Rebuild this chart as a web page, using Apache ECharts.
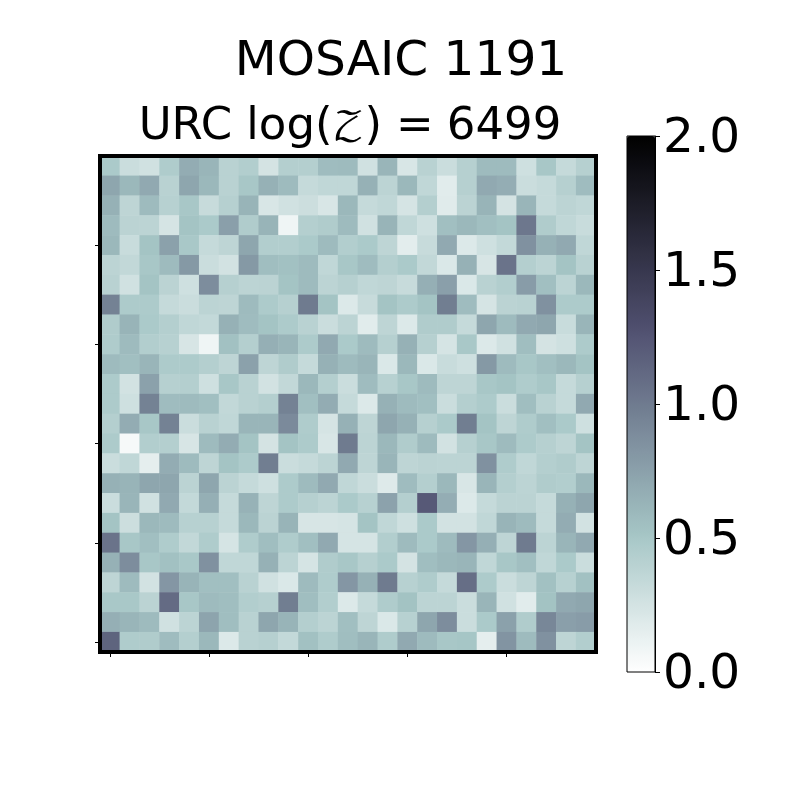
<!DOCTYPE html>
<html>
<head>
<meta charset="utf-8">
<style>html,body{margin:0;padding:0;background:#fff}#chart{width:800px;height:800px}</style>
<script src="https://cdn.jsdelivr.net/npm/echarts@6/dist/echarts.min.js"></script>
</head>
<body>
<div id="chart"></div>
<script>
// values, top row first
const row00 = [.48,.30,.27,.46,.68,.62,.40,.44,.25,.43,.43,.57,.58,.27,.62,.22,.40,.30,.42,.58,.58,.28,.50,.33,.42];
const row01 = [.72,.60,.70,.40,.72,.60,.40,.50,.65,.58,.33,.36,.36,.65,.38,.60,.36,.17,.42,.70,.67,.30,.33,.42,.57];
const row02 = [.65,.37,.58,.41,.50,.32,.42,.63,.22,.27,.29,.22,.60,.33,.36,.24,.43,.18,.39,.63,.25,.62,.33,.38,.36];
const row03 = [.58,.39,.38,.24,.52,.48,.76,.45,.63,.09,.43,.45,.58,.27,.63,.36,.28,.55,.60,.55,.52,1.02,.45,.36,.31];
const row04 = [.60,.31,.52,.75,.49,.33,.37,.72,.44,.44,.48,.58,.44,.48,.37,.16,.32,.70,.20,.28,.34,.85,.65,.70,.36];
const row05 = [.38,.35,.50,.58,.80,.30,.26,.80,.56,.54,.58,.36,.50,.57,.43,.48,.35,.21,.65,.23,1.05,.43,.38,.52,.40];
const row06 = [.40,.27,.52,.39,.28,.88,.42,.38,.39,.52,.58,.38,.42,.36,.37,.32,.66,.76,.21,.40,.44,.78,.55,.38,.60];
const row07 = [.95,.47,.47,.33,.30,.38,.37,.58,.47,.42,1.0,.52,.20,.32,.52,.47,.52,.98,.57,.24,.39,.40,.85,.47,.47];
const row08 = [.45,.63,.48,.43,.36,.34,.65,.57,.52,.47,.40,.30,.38,.17,.37,.20,.45,.45,.33,.72,.58,.70,.72,.31,.62];
const row09 = [.46,.58,.44,.41,.23,.09,.54,.43,.66,.62,.47,.70,.48,.58,.42,.65,.42,.24,.49,.20,.27,.56,.25,.28,.47];
const row10 = [.58,.55,.62,.47,.47,.43,.37,.75,.37,.45,.33,.65,.58,.62,.21,.60,.21,.31,.28,.80,.58,.50,.55,.60,.52];
const row11 = [.47,.26,.75,.42,.43,.28,.50,.40,.26,.35,.60,.43,.30,.57,.41,.50,.58,.37,.37,.50,.52,.46,.50,.33,.42];
const row12 = [.47,.28,.95,.57,.58,.55,.35,.40,.43,.95,.55,.68,.33,.20,.65,.58,.55,.30,.43,.47,.30,.56,.40,.33,.70];
const row13 = [.43,.68,.50,.95,.30,.40,.36,.62,.62,.90,.46,.24,.65,.37,.72,.65,.42,.48,.98,.52,.37,.46,.55,.48,.28];
const row14 = [.47,.05,.44,.43,.23,.58,.68,.52,.25,.52,.47,.22,1.0,.38,.60,.45,.58,.26,.42,.50,.58,.47,.42,.37,.52];
const row15 = [.30,.36,.15,.68,.58,.37,.52,.47,.98,.30,.33,.38,.70,.37,.62,.37,.39,.38,.38,.85,.46,.36,.43,.45,.37];
const row16 = [.65,.63,.72,.72,.39,.72,.39,.33,.28,.47,.58,.70,.36,.30,.19,.57,.43,.60,.22,.62,.43,.38,.45,.44,.60];
const row17 = [.30,.62,.27,.70,.34,.66,.33,.64,.37,.47,.42,.38,.48,.41,.74,.43,1.22,.67,.20,.33,.39,.39,.33,.65,.72];
const row18 = [.52,.29,.60,.58,.41,.41,.33,.60,.39,.63,.23,.23,.24,.52,.36,.28,.48,.26,.26,.36,.63,.58,.33,.68,.26];
const row19 = [1.05,.50,.55,.46,.35,.46,.24,.46,.56,.46,.55,.70,.24,.24,.44,.58,.48,.58,.82,.66,.37,1.0,.38,.62,.70];
const row20 = [.65,.88,.50,.54,.49,.85,.36,.36,.65,.38,.24,.45,.50,.42,.48,.25,.56,.60,.62,.36,.50,.55,.36,.48,.30];
const row21 = [.37,.58,.26,.82,.63,.55,.55,.40,.27,.21,.58,.46,.82,.65,1.0,.41,.46,.33,1.08,.47,.30,.37,.54,.41,.54];
const row22 = [.49,.49,.39,1.1,.50,.58,.56,.44,.42,.98,.56,.44,.20,.33,.46,.53,.38,.38,.30,.62,.27,.17,.53,.70,.72];
const row23 = [.66,.62,.58,.27,.38,.73,.56,.40,.72,.63,.43,.38,.55,.37,.21,.41,.72,.88,.30,.48,.75,.45,.92,.76,.78];
const row24 = [1.15,.46,.45,.57,.43,.60,.20,.40,.42,.34,.54,.46,.56,.62,.46,.70,.58,.50,.51,.15,.83,.58,.85,.37,.44];
const rows = [row00,row01,row02,row03,row04,row05,row06,row07,row08,row09,row10,row11,row12,
  row13,row14,row15,row16,row17,row18,row19,row20,row21,row22,row23,row24];

const colTicks = [0,5,10,15,20];
const rowTicks = [4,9,14,19,24];
const barTicks = [0,0.5,1,1.5,2];

// bone_r, anchors sit on steps 0, 16, 40 and 63 of 64
const anchors = [[0,[255,255,255]],[16,[166,198,198]],[40,[81,81,113]],[63,[0,0,0]]];
const boneR = [];
for (let i = 0; i < 64; i++) {
  let k = 0;
  while (k < 2 && i > anchors[k+1][0]) k++;
  const f = (i - anchors[k][0]) / (anchors[k+1][0] - anchors[k][0]);
  const c = anchors[k][1].map((a, j) => Math.round(a + (anchors[k+1][1][j] - a) * f));
  boneR.push('rgb(' + c.join(',') + ')');
}

const font = 'DejaVu Sans';
const fontSize = 48.6;
const subSize = 45;
const names = rows.map((r, i) => String(i));
const cells = [];
rows.forEach((r, y) => r.forEach((v, x) => cells.push([x, y, v])));

const chart = echarts.init(document.getElementById('chart'));
chart.setOption({
  animation: false,
  backgroundColor: '#fff',
  title: [
    {text: 'MOSAIC 1191', left: 396, top: 33, textAlign: 'center',
      textStyle: {fontFamily: font, fontSize: fontSize, fontWeight: 'normal', color: '#000'}},
    {text: '{a|URC log(}{z|𝒵}{a|)}{e|=}{a|6499}', left: 345, top: 100, textAlign: 'center',
      textStyle: {fontWeight: 'normal', rich: {
        a: {fontFamily: font, fontSize: subSize, fontWeight: 'normal', color: '#000'},
        e: {fontFamily: font, fontSize: subSize, fontWeight: 'normal', color: '#000', padding: [0, 13, 0, 14]},
        z: {fontFamily: 'DejaVu Math TeX Gyre, DejaVu Serif', fontSize: 40, fontWeight: 'normal', color: '#000'}
      }}}
  ],
  grid: [
    {left: 100, top: 156, width: 496, height: 496, show: true, z: 5,
      backgroundColor: 'transparent', borderColor: '#000', borderWidth: 4},
    {left: 627, top: 136, width: 28, height: 536, show: true, z: 5,
      backgroundColor: 'transparent', borderColor: '#000', borderWidth: 1}
  ],
  xAxis: [
    {type: 'category', gridIndex: 0, data: names, position: 'bottom', z: 6,
      axisLine: {show: true, lineStyle: {color: '#000', width: 4}},
      axisLabel: {show: false}, splitLine: {show: false},
      axisTick: {show: true, alignWithLabel: true, length: 5, interval: i => colTicks.includes(i),
        lineStyle: {color: '#000', width: 1}}},
    {type: 'value', gridIndex: 1, show: false, min: 0, max: 1}
  ],
  yAxis: [
    {type: 'category', gridIndex: 0, data: names, inverse: true, position: 'left', z: 6,
      axisLine: {show: true, lineStyle: {color: '#000', width: 4}},
      axisLabel: {show: false}, splitLine: {show: false},
      axisTick: {show: true, alignWithLabel: true, length: 5, interval: i => rowTicks.includes(i),
        lineStyle: {color: '#000', width: 1}}},
    {type: 'value', gridIndex: 1, position: 'right', min: barTicks[0], max: barTicks[4], interval: 0.5, z: 6,
      splitLine: {show: false},
      axisLine: {show: true, onZero: false, lineStyle: {color: '#000', width: 1}},
      axisTick: {show: true, length: 5, lineStyle: {color: '#000', width: 1}},
      axisLabel: {show: true, margin: 8, color: '#000',
        formatter: v => '{t|' + v.toFixed(1) + '}',
        rich: {t: {fontFamily: font, fontSize: fontSize, color: '#000', padding: [6, 0, 0, 0]}}}}
  ],
  visualMap: {
    type: 'continuous', seriesIndex: 0, min: 0, max: 2, calculable: false,
    left: 627, top: 136, itemWidth: 28, itemHeight: 536, padding: 0, text: null,
    showLabel: false, inRange: {color: boneR}
  },
  series: [{
    type: 'heatmap', xAxisIndex: 0, yAxisIndex: 0, data: cells, progressive: 0,
    itemStyle: {borderWidth: 0}, emphasis: {disabled: true}
  }]
});
</script>
</body>
</html>
